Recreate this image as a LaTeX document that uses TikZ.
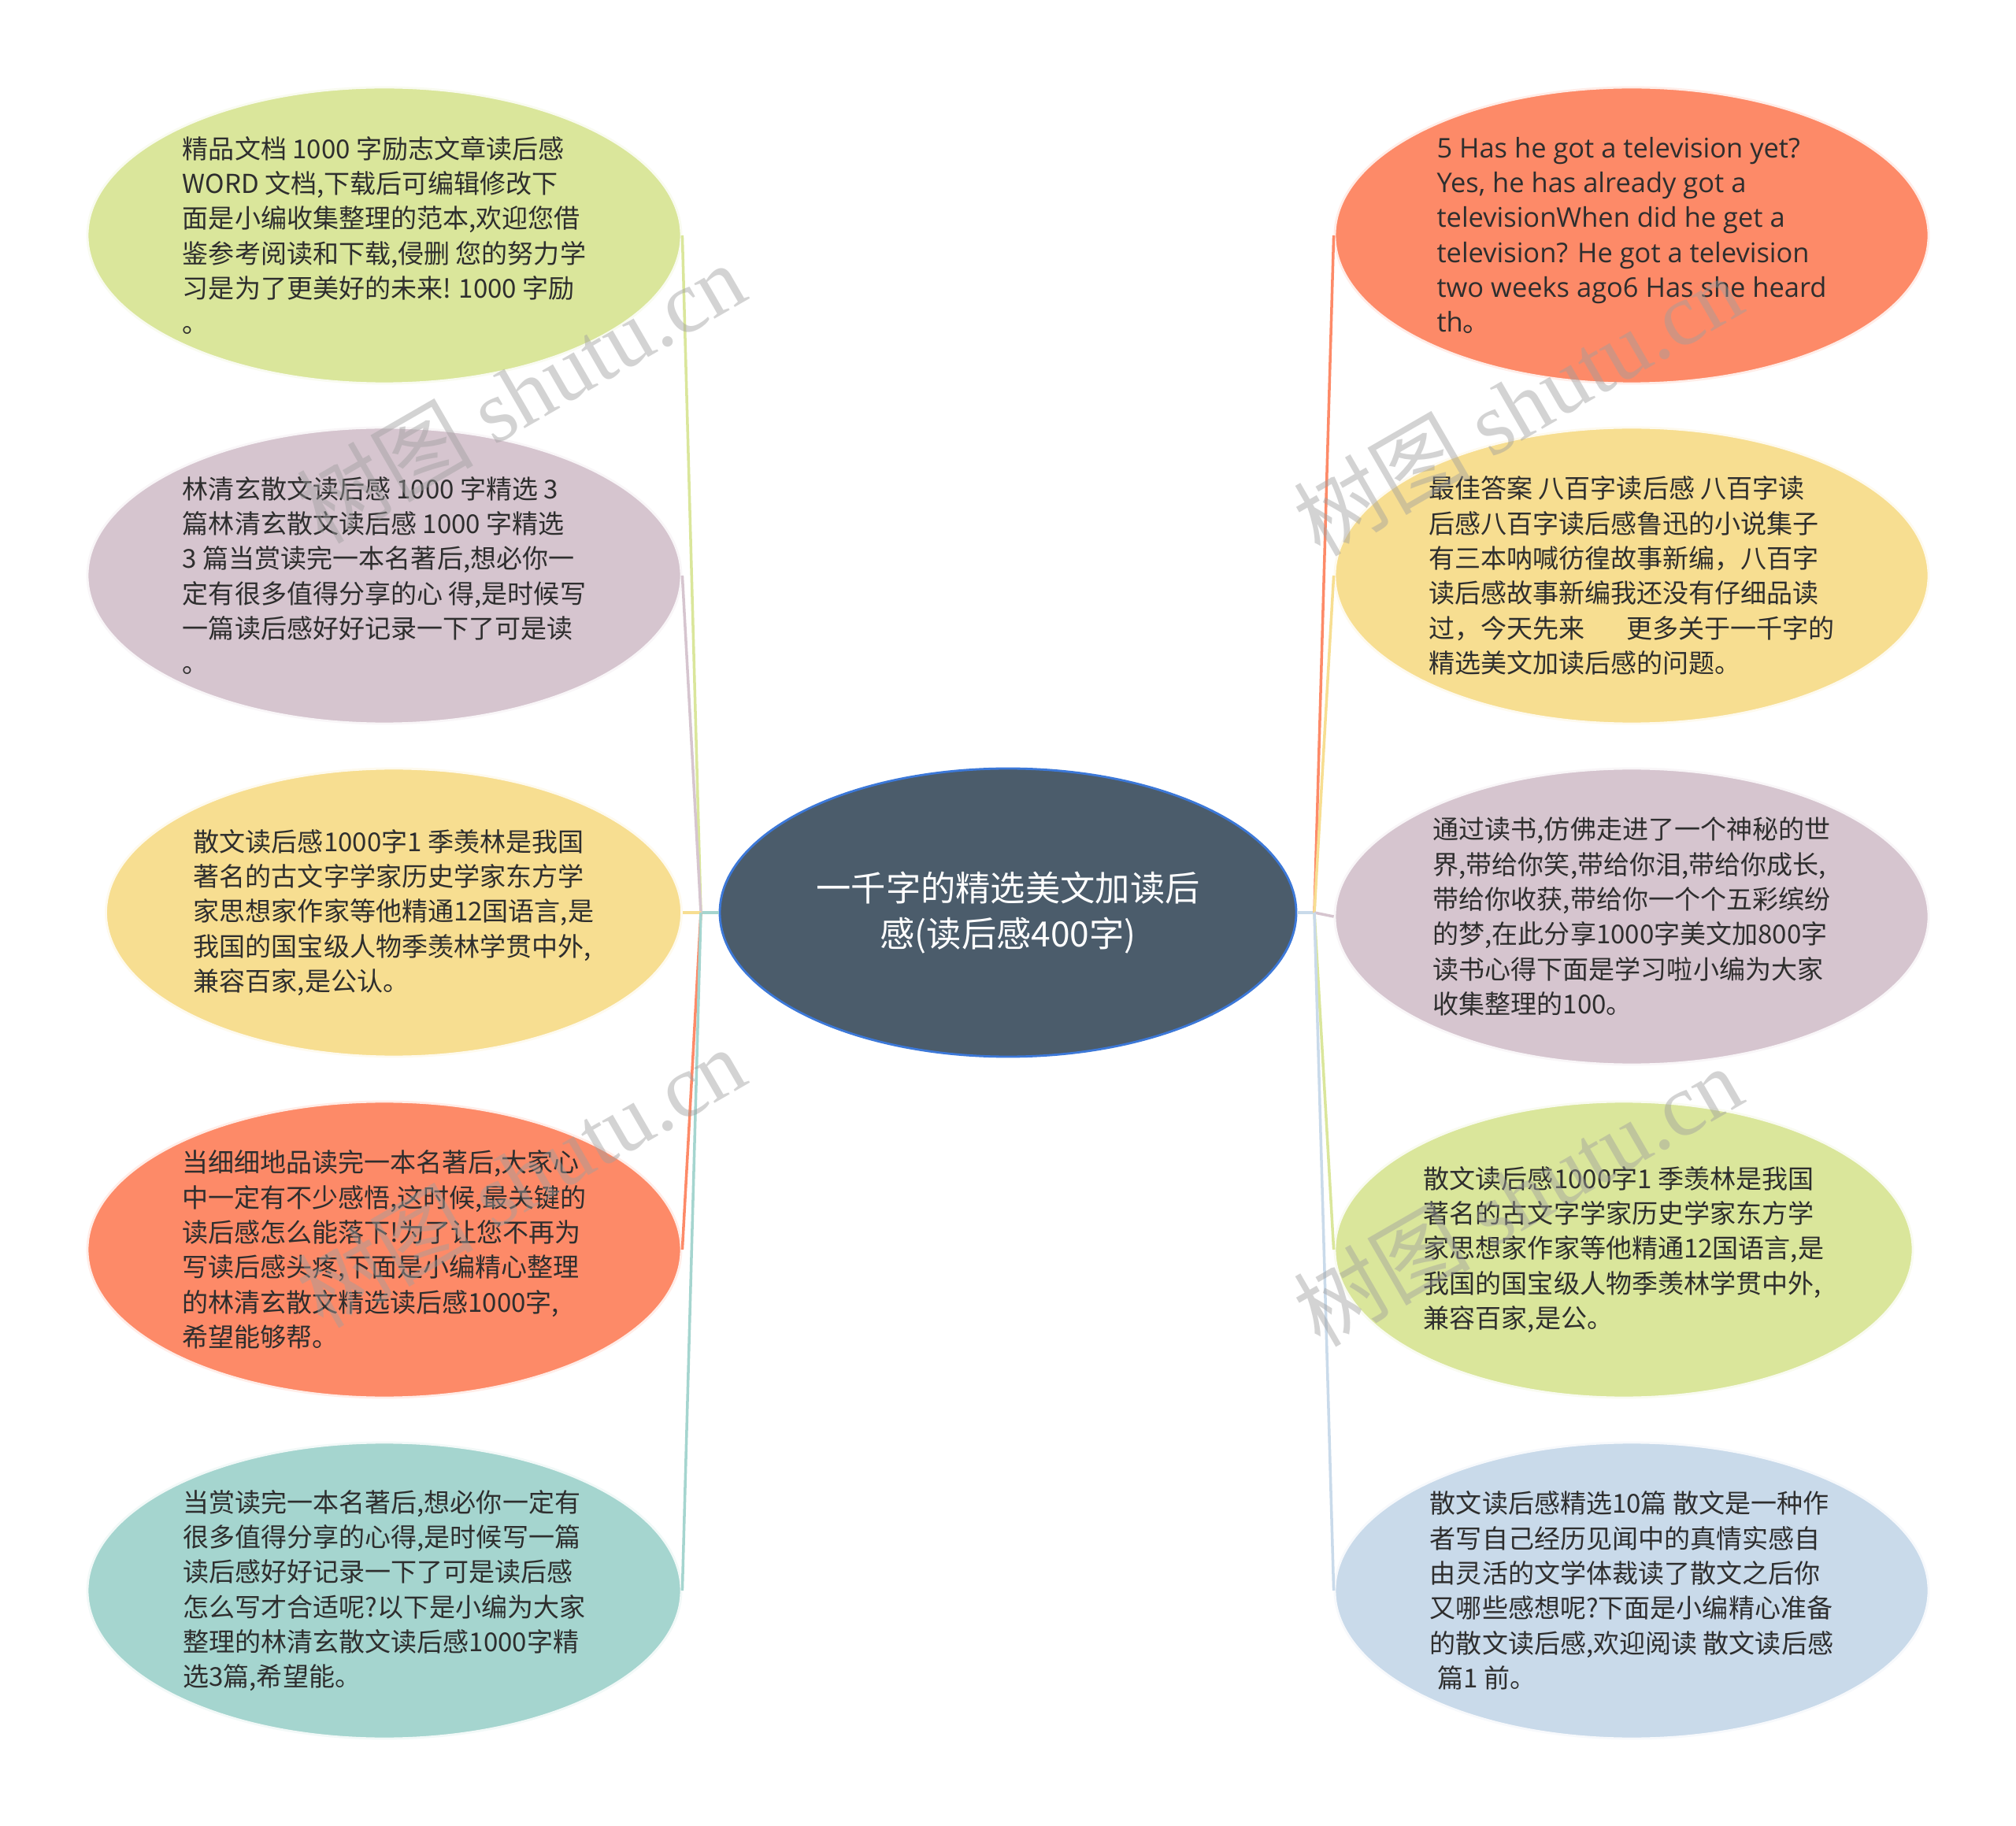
\documentclass[tikz,border=0pt]{standalone}
\usepackage{fontspec}
\setmainfont{Noto Sans CJK SC}
\newfontfamily\wmfont{Liberation Serif}
\newfontfamily\engfont{Open Sans}
\usetikzlibrary{shapes.geometric}

\definecolor{leafgreen}{HTML}{DAE69B}
\definecolor{leafmauve}{HTML}{D6C5CF}
\definecolor{leafyellow}{HTML}{F7DE91}
\definecolor{leaforange}{HTML}{FD8A68}
\definecolor{leafteal}{HTML}{A5D5CF}
\definecolor{leafblue}{HTML}{C9DAEA}
\definecolor{rootfill}{HTML}{4B5C6B}
\definecolor{rootline}{HTML}{3C78D8}
\definecolor{textdark}{HTML}{2E2E2E}

\begin{document}
\begin{tikzpicture}[
    leaf/.style={ellipse, fill=#1, draw=white!85!#1, line width=0.8pt,
        minimum width=7.54cm, minimum height=3.76cm, inner sep=0pt},
    leaftext/.style={align=left, text=textdark, inner sep=0pt,
        font=\fontsize{9.4pt}{12.6pt}\selectfont},
    branch/.style={draw=#1, line width=1pt},
    watermark/.style={rotate=30, text=gray!75, opacity=0.45,
        font=\fontsize{32pt}{32pt}\selectfont}
]

% canvas
\fill[white] (0,0) rectangle (25.6,-23.19);
\useasboundingbox (0,0) rectangle (25.6,-23.19);

% =========================================================
%  ROOT
% =========================================================
\node[ellipse, fill=rootfill, draw=rootline, line width=0.8pt,
      minimum width=7.32cm, minimum height=3.66cm, inner sep=0pt]
    (root) at (12.80,-11.59) {};
\node[align=center, text=white, font=\fontsize{12.6pt}{16.3pt}\selectfont]
    (roottext) at (root.center) {一千字的精选美文加读后\\感(读后感400字)};

\coordinate (lj) at (8.90,-11.59);
\coordinate (rj) at (16.69,-11.59);

% =========================================================
%  LEFT BRANCHES
% =========================================================
\node[leaf=leafgreen] (l1) at (4.88,-2.99) {};
\node[leaftext] (l1t) at (l1.center) {精品文档 1000 字励志文章读后感\\
WORD 文档,下载后可编辑修改下\\
面是小编收集整理的范本,欢迎您借\\
鉴参考阅读和下载,侵删 您的努力学\\
习是为了更美好的未来! 1000 字励\\
。};

\node[leaf=leafmauve] (l2) at (4.88,-7.31) {};
\node[leaftext] (l2t) at (l2.center) {林清玄散文读后感 1000 字精选 3\\
篇林清玄散文读后感 1000 字精选\\
3 篇当赏读完一本名著后,想必你一\\
定有很多值得分享的心 得,是时候写\\
一篇读后感好好记录一下了可是读\\
。};

\node[leaf=leafyellow, minimum width=7.31cm, minimum height=3.66cm]
    (l3) at (5.00,-11.59) {};
\node[leaftext] (l3t) at (l3.center) {散文读后感1000字1 季羡林是我国\\
著名的古文字学家历史学家东方学\\
家思想家作家等他精通12国语言,是\\
我国的国宝级人物季羡林学贯中外,\\
兼容百家,是公认。};

\node[leaf=leaforange] (l4) at (4.88,-15.87) {};
\node[leaftext] (l4t) at (l4.center) {当细细地品读完一本名著后,大家心\\
中一定有不少感悟,这时候,最关键的\\
读后感怎么能落下!为了让您不再为\\
写读后感头疼,下面是小编精心整理\\
的林清玄散文精选读后感1000字,\\
希望能够帮。};

\node[leaf=leafteal] (l5) at (4.88,-20.20) {};
\node[leaftext] (l5t) at (l5.center) {当赏读完一本名著后,想必你一定有\\
很多值得分享的心得,是时候写一篇\\
读后感好好记录一下了可是读后感\\
怎么写才合适呢?以下是小编为大家\\
整理的林清玄散文读后感1000字精\\
选3篇,希望能。};

% =========================================================
%  RIGHT BRANCHES
% =========================================================
\node[leaf=leaforange] (r1) at (20.72,-2.99) {};
\node[leaftext, font=\fontsize{9.8pt}{12.6pt}\engfont] (r1t) at (r1.center)
{5 Has he got a television yet?\\
Yes, he has already got a\\
televisionWhen did he get a\\
television? He got a television\\
two weeks ago6 Has she heard\\
th{\rmfamily 。}};

\node[leaf=leafyellow] (r2) at (20.72,-7.31) {};
\node[leaftext] (r2t) at (r2.center) {最佳答案 八百字读后感 八百字读\\
后感八百字读后感鲁迅的小说集子\\
有三本呐喊彷徨故事新编，八百字\\
读后感故事新编我还没有仔细品读\\
过，今天先来\hspace{1.6em}更多关于一千字的\\
精选美文加读后感的问题。};

\node[leaf=leafmauve] (r3) at (20.72,-11.64) {};
\node[leaftext] (r3t) at (r3.center) {通过读书,仿佛走进了一个神秘的世\\
界,带给你笑,带给你泪,带给你成长,\\
带给你收获,带给你一个个五彩缤纷\\
的梦,在此分享1000字美文加800字\\
读书心得下面是学习啦小编为大家\\
收集整理的100。};

\node[leaf=leafgreen, minimum width=7.34cm] (r4) at (20.62,-15.87) {};
\node[leaftext] (r4t) at (r4.center) {散文读后感1000字1 季羡林是我国\\
著名的古文字学家历史学家东方学\\
家思想家作家等他精通12国语言,是\\
我国的国宝级人物季羡林学贯中外,\\
兼容百家,是公。};

\node[leaf=leafblue] (r5) at (20.72,-20.20) {};
\node[leaftext] (r5t) at (r5.center) {散文读后感精选10篇 散文是一种作\\
者写自己经历见闻中的真情实感自\\
由灵活的文学体裁读了散文之后你\\
又哪些感想呢?下面是小编精心准备\\
的散文读后感,欢迎阅读 散文读后感\\
\hspace{0.3em}篇1 前。};

% =========================================================
%  CONNECTORS
% =========================================================
\draw[branch=leafteal] (root.west) -- (lj);
\draw[branch=leafgreen] (lj) -- (l1.east);
\draw[branch=leafmauve] (lj) -- (l2.east);
\draw[branch=leafyellow] (lj) -- (l3.east);
\draw[branch=leaforange] (lj) -- (l4.east);
\draw[branch=leafteal] (lj) -- (l5.east);

\draw[branch=leafblue] (root.east) -- (rj);
\draw[branch=leaforange] (rj) -- (r1.west);
\draw[branch=leafyellow] (rj) -- (r2.west);
\draw[branch=leafmauve] (rj) -- (r3.west);
\draw[branch=leafgreen] (rj) -- (r4.west);
\draw[branch=leafblue] (rj) -- (r5.west);

% watermarks
\node[watermark] (wm1) at (6.61,-4.98) {树图 {\wmfont shutu.cn}};
\node[watermark] (wm2) at (6.61,-14.94) {树图 {\wmfont shutu.cn}};
\node[watermark] (wm3) at (19.27,-5.14) {树图 {\wmfont shutu.cn}};
\node[watermark] (wm4) at (19.27,-15.18) {树图 {\wmfont shutu.cn}};

\end{tikzpicture}
\end{document}
